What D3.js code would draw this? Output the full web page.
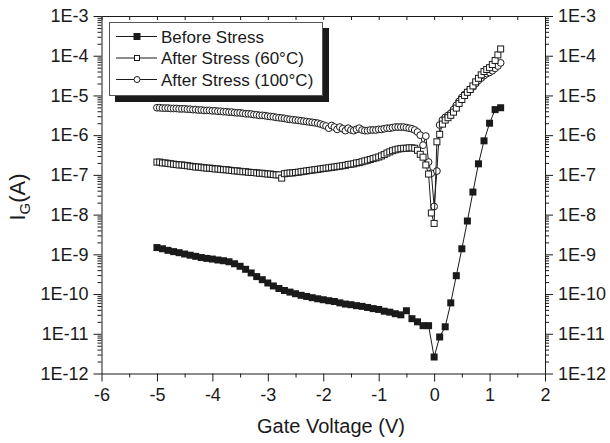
<!DOCTYPE html>
<html>
<head>
<meta charset="utf-8">
<script src="https://cdn.jsdelivr.net/npm/d3@7/dist/d3.min.js"></script>
<style>
  body { margin: 0; background: #fff; }
  svg { font-family: "Liberation Sans", Arial, Helvetica, sans-serif; }
  .axis path, .axis line { stroke: #1a1a1a; stroke-width: 1px; }
  .axis text { fill: #1a1a1a; font-size: 18px; font-family: "Liberation Sans", Arial, sans-serif; }
</style>
</head>
<body>
<div id="chart"></div>
<script>
// gate voltage sweep (V)
var sweepBefore = { start: -5, step: 0.1 };
var sweepAfter = { start: -5, step: 0.05 };

// gate current (A)
var beforeStress = [
  1.48e-9, 1.38e-9, 1.26e-9, 1.17e-9, 1.1e-9, 1.02e-9, 9.5e-10, 8.9e-10, 8.3e-10, 7.9e-10,
  7.6e-10, 7.2e-10, 6.9e-10, 6.5e-10, 5.8e-10, 5.0e-10, 4.2e-10, 3.4e-10, 2.75e-10, 2.3e-10,
  1.9e-10, 1.6e-10, 1.38e-10, 1.23e-10, 1.12e-10, 1.02e-10, 9.3e-11, 8.7e-11, 8.1e-11, 7.6e-11,
  7.2e-11, 6.8e-11, 6.5e-11, 6.0e-11, 5.6e-11, 5.4e-11, 5.1e-11, 4.9e-11, 4.6e-11, 4.3e-11,
  4.1e-11, 3.7e-11, 3.5e-11, 3.2e-11, 3.0e-11, 3.8e-11, 2.4e-11, 2.0e-11, 1.6e-11, 1.6e-11,
  2.6e-12, 8.3e-12, 1.5e-11, 6.0e-11, 2.9e-10, 1.38e-9, 6.9e-9, 3.7e-8, 1.9e-7, 7.2e-7,
  2.0e-6, 4.4e-6, 4.9e-6
];

var after60 = [
  2.1e-7, 2.1e-7, 2.0e-7, 2.0e-7, 1.95e-7, 1.9e-7, 1.86e-7, 1.82e-7, 1.78e-7, 1.78e-7,
  1.74e-7, 1.7e-7, 1.66e-7, 1.62e-7, 1.58e-7, 1.58e-7, 1.55e-7, 1.51e-7, 1.48e-7, 1.48e-7,
  1.45e-7, 1.41e-7, 1.41e-7, 1.38e-7, 1.35e-7, 1.35e-7, 1.32e-7, 1.29e-7, 1.26e-7, 1.26e-7,
  1.23e-7, 1.2e-7, 1.2e-7, 1.17e-7, 1.15e-7, 1.15e-7, 1.12e-7, 1.1e-7, 1.1e-7, 1.07e-7,
  1.05e-7, 1.05e-7, 1.02e-7, 1.0e-7, 1.0e-7, 8.3e-8, 1.07e-7, 1.1e-7, 1.12e-7, 1.12e-7,
  1.15e-7, 1.17e-7, 1.2e-7, 1.23e-7, 1.26e-7, 1.29e-7, 1.32e-7, 1.35e-7, 1.38e-7, 1.41e-7,
  1.45e-7, 1.48e-7, 1.51e-7, 1.55e-7, 1.58e-7, 1.62e-7, 1.66e-7, 1.7e-7, 1.74e-7, 1.82e-7,
  1.86e-7, 1.9e-7, 2.0e-7, 2.04e-7, 2.14e-7, 2.24e-7, 2.34e-7, 2.45e-7, 2.57e-7, 2.69e-7,
  2.82e-7, 3.0e-7, 3.24e-7, 3.55e-7, 3.8e-7, 4.07e-7, 4.27e-7, 4.47e-7, 4.57e-7, 4.68e-7,
  4.68e-7, 4.79e-7, 4.79e-7, 4.68e-7, 4.17e-7, 3.3e-7, 2.8e-7, 1.78e-7, 1.05e-7, 1.1e-8,
  6.0e-9, 6.8e-7, 1.05e-6, 1.9e-6, 2.4e-6, 2.75e-6, 3.16e-6, 3.8e-6, 4.8e-6, 6.3e-6,
  7.9e-6, 1.0e-5, 1.2e-5, 1.41e-5, 1.74e-5, 2.2e-5, 2.7e-5, 3.3e-5, 4.0e-5, 4.5e-5,
  5.0e-5, 6.0e-5, 7.6e-5, 1.05e-4, 1.48e-4
];

var after100 = [
  4.9e-6, 4.9e-6, 4.8e-6, 4.8e-6, 4.8e-6, 4.7e-6, 4.7e-6, 4.7e-6, 4.6e-6, 4.6e-6,
  4.6e-6, 4.5e-6, 4.5e-6, 4.4e-6, 4.4e-6, 4.3e-6, 4.3e-6, 4.2e-6, 4.2e-6, 4.2e-6,
  4.1e-6, 4.1e-6, 4.0e-6, 4.0e-6, 3.9e-6, 3.9e-6, 3.8e-6, 3.8e-6, 3.7e-6, 3.65e-6,
  3.65e-6, 3.55e-6, 3.45e-6, 3.45e-6, 3.4e-6, 3.3e-6, 3.25e-6, 3.15e-6, 3.15e-6, 3.1e-6,
  3.0e-6, 2.95e-6, 2.9e-6, 2.8e-6, 2.75e-6, 2.7e-6, 2.65e-6, 2.55e-6, 2.5e-6, 2.45e-6,
  2.4e-6, 2.35e-6, 2.3e-6, 2.25e-6, 2.2e-6, 2.15e-6, 2.1e-6, 2.05e-6, 2.0e-6, 1.9e-6,
  1.8e-6, 1.7e-6, 1.5e-6, 1.75e-6, 1.6e-6, 1.4e-6, 1.6e-6, 1.45e-6, 1.3e-6, 1.5e-6,
  1.35e-6, 1.3e-6, 1.4e-6, 1.5e-6, 1.35e-6, 1.3e-6, 1.3e-6, 1.35e-6, 1.35e-6, 1.35e-6,
  1.4e-6, 1.4e-6, 1.45e-6, 1.5e-6, 1.5e-6, 1.55e-6, 1.6e-6, 1.6e-6, 1.6e-6, 1.6e-6,
  1.55e-6, 1.5e-6, 1.45e-6, 1.35e-6, 1.2e-6, 1.0e-6, 5.6e-7, 9.5e-7, 2.1e-7, 1.1e-7,
  1.6e-8, 1.25e-7, 1.8e-6, 2.4e-6, 2.8e-6, 3.15e-6, 3.55e-6, 4.4e-6, 5.6e-6, 7.1e-6,
  8.9e-6, 1.05e-5, 1.2e-5, 1.4e-5, 1.65e-5, 2.0e-5, 2.4e-5, 2.75e-5, 3.15e-5, 3.55e-5,
  3.8e-5, 4.2e-5, 4.8e-5, 5.5e-5, 6.6e-5
];

var seriesNames = ["Before Stress", "After Stress (60\u00B0C)", "After Stress (100\u00B0C)"];
var xTicks = [-6, -5, -4, -3, -2, -1, 0, 1, 2];
var yDecades = [-12, -11, -10, -9, -8, -7, -6, -5, -4, -3];

var W = 610, H = 443;
var ink = "#1a1a1a";
var svg = d3.select("#chart").append("svg").attr("width", W).attr("height", H);

var x = d3.scaleLinear().domain([-6, 2]).range([101.5, 545]);
var y = d3.scaleLog().domain([1e-12, 1e-3]).range([373.5, 16]);

function toPoints(vals, sweep) {
  return vals.map(function(v, i) { return { v: +(sweep.start + i * sweep.step).toFixed(2), i: v }; });
}
var dBefore = toPoints(beforeStress, sweepBefore);
var d60 = toPoints(after60, sweepAfter);
var d100 = toPoints(after100, sweepAfter);

// minor ticks
var xMinor = d3.range(-6, 2.01, 0.5).filter(function(d) { return d % 1 !== 0; });
var yMinor = [];
yDecades.slice(0, -1).forEach(function(e) {
  for (var k = 2; k <= 9; k++) yMinor.push(k * Math.pow(10, e));
});
var yMajor = yDecades.map(function(e) { return Math.pow(10, e); });
var fmt = function(d) { return "1E" + Math.round(Math.log10(d)); };

// bottom
svg.append("g").attr("class", "axis").attr("transform", "translate(0,373.5)")
  .call(d3.axisBottom(x).tickValues(xTicks).tickFormat(function(d) { return String(d); })
    .tickSize(8).tickPadding(7).tickSizeOuter(0));
svg.append("g").attr("class", "axis").attr("transform", "translate(0,373.5)")
  .call(d3.axisBottom(x).tickValues(xMinor).tickSize(4).tickFormat("").tickSizeOuter(0))
  .select(".domain").remove();
// top (inward)
svg.append("g").attr("class", "axis").attr("transform", "translate(0,16)")
  .call(d3.axisBottom(x).tickValues(d3.range(-6, 2.01, 0.5)).tickSize(4).tickFormat("").tickSizeOuter(0));
// left
svg.append("g").attr("class", "axis").attr("transform", "translate(101.5,0)")
  .call(d3.axisLeft(y).tickValues(yMajor).tickFormat(fmt).tickSize(8).tickPadding(5).tickSizeOuter(0));
svg.append("g").attr("class", "axis").attr("transform", "translate(101.5,0)")
  .call(d3.axisLeft(y).tickValues(yMinor).tickFormat("").tickSize(4))
  .select(".domain").remove();
// right
svg.append("g").attr("class", "axis").attr("transform", "translate(545,0)")
  .call(d3.axisRight(y).tickValues(yMajor).tickFormat(fmt).tickSize(8).tickPadding(5).tickSizeOuter(0));
svg.append("g").attr("class", "axis").attr("transform", "translate(545,0)")
  .call(d3.axisRight(y).tickValues(yMinor).tickFormat("").tickSize(4))
  .select(".domain").remove();

// axis titles
svg.append("text").attr("x", 331).attr("y", 433).attr("text-anchor", "middle")
  .attr("font-size", 20).attr("fill", ink).text("Gate Voltage (V)");
var yt = svg.append("text").attr("transform", "translate(25,197) rotate(-90)")
  .attr("text-anchor", "middle").attr("font-size", 22).attr("fill", ink);
yt.append("tspan").text("I");
yt.append("tspan").attr("font-size", 15).attr("dy", 5).text("G");
yt.append("tspan").attr("dy", -5).text("(A)");

// curves
var line = d3.line().x(function(d) { return x(d.v); }).y(function(d) { return y(d.i); });
var plot = svg.append("g");

function drawSeries(data, kind) {
  plot.append("path").datum(data).attr("d", line)
    .attr("fill", "none").attr("stroke", ink).attr("stroke-width", 1);
  var g = plot.append("g");
  if (kind === "circle") {
    g.selectAll("circle").data(data).enter().append("circle")
      .attr("cx", function(d) { return x(d.v); }).attr("cy", function(d) { return y(d.i); })
      .attr("r", 3.4).attr("fill", "#fff").attr("stroke", ink).attr("stroke-width", 1);
  } else {
    var s = kind === "filled" ? 7 : 6;
    g.selectAll("rect").data(data).enter().append("rect")
      .attr("x", function(d) { return x(d.v) - s / 2; }).attr("y", function(d) { return y(d.i) - s / 2; })
      .attr("width", s).attr("height", s)
      .attr("fill", kind === "filled" ? ink : "#fff")
      .attr("stroke", ink).attr("stroke-width", kind === "filled" ? 0 : 1);
  }
}
drawSeries(d100, "circle");
drawSeries(d60, "open");
drawSeries(dBefore, "filled");

// legend
var lg = svg.append("g");
lg.append("rect").attr("x", 115).attr("y", 28).attr("width", 214).attr("height", 74).attr("fill", ink);
lg.append("rect").attr("x", 109.5).attr("y", 22.5).attr("width", 213).attr("height", 73)
  .attr("fill", "#fff").attr("stroke", "#555").attr("stroke-width", 1);
var kinds = ["filled", "open", "circle"];
var rowY = [36.5, 58, 79.5];
seriesNames.forEach(function(name, k) {
  var ry = rowY[k];
  lg.append("line").attr("x1", 116).attr("x2", 157).attr("y1", ry).attr("y2", ry)
    .attr("stroke", ink).attr("stroke-width", 1);
  if (kinds[k] === "filled") {
    lg.append("rect").attr("x", 133.5).attr("y", ry - 3.5).attr("width", 7).attr("height", 7).attr("fill", ink);
  } else if (kinds[k] === "open") {
    lg.append("rect").attr("x", 134.5).attr("y", ry - 2.5).attr("width", 5).attr("height", 5)
      .attr("fill", "#fff").attr("stroke", ink);
  } else {
    lg.append("circle").attr("cx", 137).attr("cy", ry).attr("r", 3)
      .attr("fill", "#fff").attr("stroke", ink);
  }
  lg.append("text").attr("x", 161).attr("y", ry + 6).attr("font-size", 17)
    .attr("fill", ink).text(name);
});
</script>
</body>
</html>
